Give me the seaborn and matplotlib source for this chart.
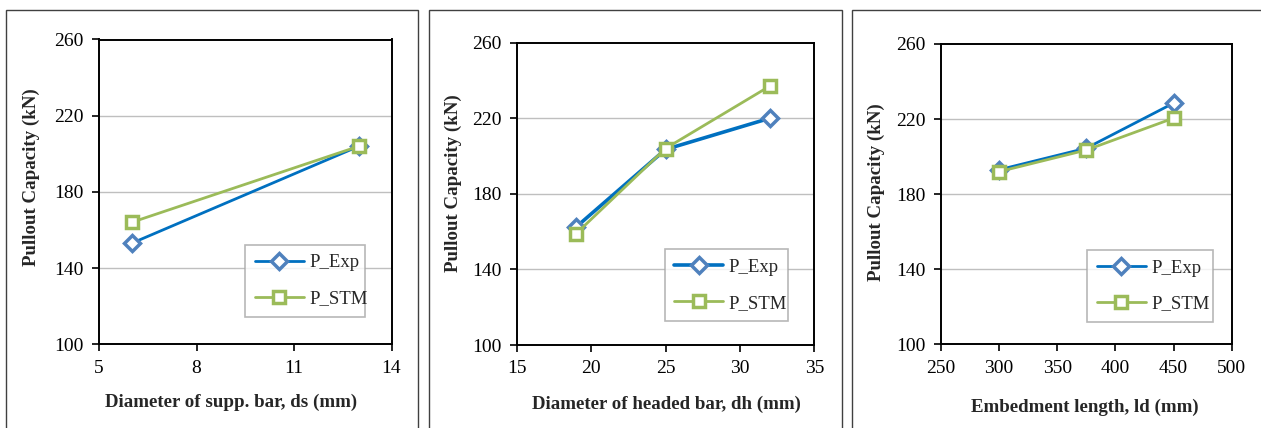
import matplotlib
matplotlib.use("Agg")
import matplotlib.pyplot as plt
import seaborn as sns
import pandas as pd
from matplotlib.patches import Rectangle

# ---- data ----
ds_vals = [6, 13]
ds_exp = [153, 204]
ds_stm = [164, 204]

dh_vals = [19, 25, 32]
dh_exp = [162.5, 203.5, 220]
dh_stm = [159, 204, 237]

ld_vals = [300, 375, 450]
ld_exp = [193, 204.5, 228.5]
ld_stm = [192, 203.5, 220.5]

xlabels = ["Diameter of supp. bar, ds (mm)",
           "Diameter of headed bar, dh (mm)",
           "Embedment length, ld (mm)"]
ylabel = "Pullout Capacity (kN)"
xticks_list = [[5, 8, 11, 14], [15, 20, 25, 30, 35], [250, 300, 350, 400, 450, 500]]
yticks = [100, 140, 180, 220, 260]
series_names = ["P_Exp", "P_STM"]

sns.set_theme(style="white")
plt.rcParams['font.family'] = ['Liberation Serif', 'DejaVu Serif']

W, H = 1261, 428
fig = plt.figure(figsize=(W / 100, H / 100), dpi=100)

def fx(px):
    return px / W

def fy(py):
    return 1 - py / H

# panel borders (pixel coords)
borders = [(6, 9.5, 418, 440), (429, 9.5, 841.5, 440), (851.5, 9.5, 1270, 440)]
for (l, t, r, b) in borders:
    fig.patches.append(Rectangle((fx(l), fy(b)), fx(r) - fx(l), fy(t) - fy(b),
                                 transform=fig.transFigure, fill=False,
                                 edgecolor="#404040", linewidth=1.0))

# axes positions (pixel coords: left, top, right, bottom)
axpos = [(99, 39.5, 391.5, 344.3), (516.7, 42.7, 814.3, 345), (941, 44, 1231.7, 344.3)]
data = [(ds_vals, ds_exp, ds_stm), (dh_vals, dh_exp, dh_stm), (ld_vals, ld_exp, ld_stm)]
legpos = [(236, 240, 374, 321.7), (655.5, 246.5, 797, 324), (1078, 245.5, 1222, 326.5)]
# label centres in pixels
xlab_c = [(231.5, 402.3), (666, 404.3), (1085.3, 407)]
ylab_c = [(31.7, 176.7), (453.3, 183), (876.7, 191.7)]

blue_line = "#0070C0"
blue_mark = "#4F81BD"
green = "#9BBB59"

for i in range(3):
    l, t, r, b = axpos[i]
    ax = fig.add_axes([fx(l), fy(b), fx(r) - fx(l), fy(t) - fy(b)])
    xv, ye, ys = data[i]
    df = pd.DataFrame({"x": xv + xv,
                       "y": ye + ys,
                       "s": [series_names[0]] * len(xv) + [series_names[1]] * len(xv)})
    sns.lineplot(data=df[df.s == series_names[0]], x="x", y="y", ax=ax, color=blue_line,
                 linewidth=2.0 if i != 1 else 2.6, marker="D", markersize=8,
                 markerfacecolor="white", markeredgecolor=blue_mark, markeredgewidth=2.5,
                 label=series_names[0], sort=False, zorder=3)
    sns.lineplot(data=df[df.s == series_names[1]], x="x", y="y", ax=ax, color=green,
                 linewidth=2.0, marker="s", markersize=9,
                 markerfacecolor="white", markeredgecolor=green, markeredgewidth=2.5,
                 label=series_names[1], sort=False, zorder=4)
    xt = xticks_list[i]
    ax.set_xlim(xt[0], xt[-1])
    ax.set_ylim(100, 260)
    ax.set_xticks(xt)
    ax.set_yticks(yticks)
    ax.set_xticklabels([str(v) for v in xt], fontsize=14)
    ax.set_yticklabels([str(v) for v in yticks], fontsize=14)
    for yv in yticks[1:-1]:
        ax.axhline(yv, color="#BFBFBF", linewidth=1.0, zorder=0)
    for sp in ax.spines.values():
        sp.set_color("black")
        sp.set_linewidth(1.4)
    ax.tick_params(axis="both", which="major", direction="out", length=5, width=1.2,
                   color="black", bottom=True, left=True, pad=6, labelcolor="black")
    ax.set_xlabel(xlabels[i], fontsize=13.6, fontweight="bold")
    ax.set_ylabel(ylabel, fontsize=13.6, fontweight="bold")
    cx, cy = xlab_c[i]
    ax.xaxis.set_label_coords((cx - l) / (r - l), (b - cy) / (b - t))
    ax.xaxis.label.set_va("center")
    cx, cy = ylab_c[i]
    ax.yaxis.set_label_coords((cx - l) / (r - l), (b - cy) / (b - t))
    ax.yaxis.label.set_va("center")
    ll, lt, lr, lb = legpos[i]
    bx = (ll - l) / (r - l)
    by = (b - lb) / (b - t)
    bw = (lr - ll) / (r - l)
    bh = (lb - lt) / (b - t)
    leg = ax.legend(loc="center", bbox_to_anchor=(bx, by, bw, bh), mode="expand",
                    fontsize=13.5, frameon=True, fancybox=False, handlelength=2.6,
                    labelspacing=1.0, borderpad=0.5, handletextpad=0.3)
    leg.get_frame().set_edgecolor("#A6A6A6")
    leg.get_frame().set_linewidth(1.2)

fig.savefig("out.png", dpi=100)
